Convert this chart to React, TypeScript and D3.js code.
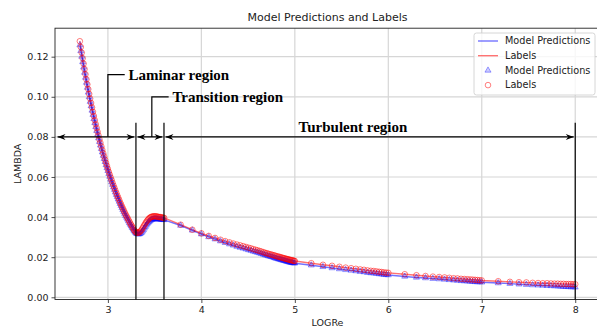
import React, { useEffect, useRef } from 'react';
import * as d3 from 'd3';

// LOGRe samples, by flow region
const laminarLogRe = [2.70, 2.71, 2.72, 2.73, 2.74, 2.75, 2.76, 2.77, 2.78, 2.79, 2.80, 2.81, 2.82, 2.83, 2.84,
  2.85, 2.86, 2.87, 2.88, 2.89, 2.90, 2.91, 2.92, 2.93, 2.94, 2.95, 2.96, 2.97, 2.98, 2.99, 3.00, 3.01, 3.02,
  3.03, 3.04, 3.05, 3.06, 3.07, 3.08, 3.09, 3.10, 3.11, 3.12, 3.13, 3.14, 3.15, 3.16, 3.17, 3.18, 3.19, 3.20,
  3.21, 3.22, 3.23, 3.24, 3.25, 3.26, 3.27, 3.28, 3.29, 3.30];
const laminarLabels = [0.1277, 0.1248, 0.1220, 0.1192, 0.1165, 0.1138, 0.1112, 0.1087, 0.1062, 0.1038, 0.1014,
  0.0991, 0.0969, 0.0947, 0.0925, 0.0904, 0.0883, 0.0863, 0.0844, 0.0825, 0.0806, 0.0787, 0.0770, 0.0752,
  0.0735, 0.0718, 0.0702, 0.0686, 0.0670, 0.0655, 0.0640, 0.0625, 0.0611, 0.0597, 0.0584, 0.0570, 0.0557,
  0.0545, 0.0532, 0.0520, 0.0508, 0.0497, 0.0486, 0.0474, 0.0464, 0.0453, 0.0443, 0.0433, 0.0423, 0.0413,
  0.0404, 0.0395, 0.0386, 0.0377, 0.0368, 0.0360, 0.0352, 0.0344, 0.0336, 0.0329, 0.0324];
const laminarPreds = [0.1258, 0.1229, 0.1201, 0.1174, 0.1147, 0.1121, 0.1096, 0.1071, 0.1046, 0.1022, 0.0999,
  0.0976, 0.0954, 0.0932, 0.0911, 0.0890, 0.0870, 0.0850, 0.0831, 0.0812, 0.0794, 0.0776, 0.0758, 0.0741,
  0.0724, 0.0707, 0.0691, 0.0676, 0.0660, 0.0645, 0.0631, 0.0616, 0.0602, 0.0588, 0.0575, 0.0562, 0.0549,
  0.0537, 0.0524, 0.0512, 0.0501, 0.0489, 0.0478, 0.0467, 0.0457, 0.0446, 0.0436, 0.0426, 0.0417, 0.0407,
  0.0398, 0.0389, 0.0380, 0.0371, 0.0363, 0.0355, 0.0347, 0.0339, 0.0332, 0.0325, 0.0320];

const transitionLogRe = [3.31, 3.32, 3.33, 3.34, 3.35, 3.36, 3.37, 3.38, 3.39, 3.40, 3.41, 3.42, 3.43, 3.44,
  3.45, 3.46, 3.47, 3.48, 3.49, 3.50, 3.51, 3.52, 3.53, 3.54, 3.55, 3.56, 3.57, 3.58, 3.59];
const transitionLabels = [0.0322, 0.0322, 0.0323, 0.0326, 0.0330, 0.0336, 0.0344, 0.0352, 0.0360, 0.0368,
  0.0375, 0.0382, 0.0388, 0.0393, 0.0397, 0.0400, 0.0402, 0.0403, 0.0404, 0.0404, 0.0404, 0.0403, 0.0402,
  0.0401, 0.0400, 0.0400, 0.0399, 0.0398, 0.0397];
const transitionPreds = [0.0317, 0.0315, 0.0315, 0.0316, 0.0319, 0.0323, 0.0329, 0.0336, 0.0344, 0.0352,
  0.0359, 0.0366, 0.0372, 0.0377, 0.0381, 0.0385, 0.0387, 0.0389, 0.0390, 0.0391, 0.0391, 0.0391, 0.0390,
  0.0390, 0.0389, 0.0389, 0.0388, 0.0388, 0.0387];

const turbulentLogRe = [3.602, 3.778, 3.903, 4.000, 4.079, 4.146, 4.204, 4.255, 4.301, 4.342, 4.380, 4.415,
  4.447, 4.477, 4.505, 4.531, 4.556, 4.580, 4.602, 4.623, 4.643, 4.663, 4.681, 4.699, 4.716, 4.732, 4.748,
  4.763, 4.778, 4.792, 4.806, 4.820, 4.833, 4.845, 4.857, 4.869, 4.881, 4.892, 4.903, 4.914, 4.924, 4.934,
  4.944, 4.954, 4.964, 4.973, 4.982, 4.991, 5.000,
  5.176, 5.301, 5.398, 5.477, 5.544, 5.602, 5.653, 5.699, 5.740, 5.778, 5.813, 5.845, 5.875, 5.903, 5.929,
  5.954, 5.978, 6.000,
  6.176, 6.301, 6.398, 6.477, 6.544, 6.602, 6.653, 6.699, 6.740, 6.778, 6.813, 6.845, 6.875, 6.903, 6.929,
  6.954, 6.978, 7.000,
  7.176, 7.301, 7.398, 7.477, 7.544, 7.602, 7.653, 7.699, 7.740, 7.778, 7.813, 7.845, 7.875, 7.903, 7.929,
  7.954, 7.978, 8.000];
const turbulentLabels = [0.0396, 0.0362, 0.0337, 0.0319, 0.0306, 0.0296, 0.0287, 0.0280, 0.0274, 0.0268,
  0.0263, 0.0259, 0.0255, 0.0251, 0.0247, 0.0244, 0.0240, 0.0237, 0.0234, 0.0231, 0.0228, 0.0225, 0.0222,
  0.0220, 0.0217, 0.0215, 0.0213, 0.0211, 0.0209, 0.0207, 0.0205, 0.0203, 0.0202, 0.0200, 0.0198, 0.0197,
  0.0195, 0.0194, 0.0192, 0.0191, 0.0190, 0.0188, 0.0187, 0.0186, 0.0185, 0.0184, 0.0183, 0.0182, 0.0181,
  0.0170, 0.0162, 0.0157, 0.0152, 0.0148, 0.0145, 0.0142, 0.0139, 0.0137, 0.0134, 0.0132, 0.0131, 0.0129,
  0.0127, 0.0126, 0.0124, 0.0123, 0.0122,
  0.0115, 0.0110, 0.0106, 0.0103, 0.0101, 0.0099, 0.0097, 0.0095, 0.0094, 0.0092, 0.0091, 0.0090, 0.0089,
  0.0088, 0.0087, 0.0086, 0.0085, 0.0084,
  0.0080, 0.0077, 0.0075, 0.0074, 0.0072, 0.0071, 0.0070, 0.0070, 0.0069, 0.0068, 0.0068, 0.0067, 0.0067,
  0.0066, 0.0066, 0.0066, 0.0065, 0.0065];
const turbulentPreds = [0.0386, 0.0358, 0.0334, 0.0315, 0.0301, 0.0290, 0.0280, 0.0272, 0.0265, 0.0259,
  0.0253, 0.0248, 0.0244, 0.0240, 0.0236, 0.0233, 0.0229, 0.0226, 0.0223, 0.0220, 0.0217, 0.0214, 0.0211,
  0.0209, 0.0206, 0.0204, 0.0202, 0.0200, 0.0197, 0.0195, 0.0193, 0.0191, 0.0190, 0.0188, 0.0186, 0.0185,
  0.0183, 0.0182, 0.0180, 0.0179, 0.0178, 0.0176, 0.0175, 0.0174, 0.0173, 0.0172, 0.0171, 0.0171, 0.0170,
  0.0160, 0.0152, 0.0146, 0.0141, 0.0137, 0.0134, 0.0131, 0.0128, 0.0126, 0.0123, 0.0121, 0.0120, 0.0118,
  0.0116, 0.0115, 0.0113, 0.0112, 0.0111,
  0.0104, 0.0099, 0.0096, 0.0093, 0.0091, 0.0089, 0.0087, 0.0085, 0.0084, 0.0082, 0.0081, 0.0080, 0.0079,
  0.0078, 0.0077, 0.0076, 0.0076, 0.0075,
  0.0071, 0.0068, 0.0065, 0.0063, 0.0061, 0.0060, 0.0059, 0.0058, 0.0057, 0.0056, 0.0055, 0.0054, 0.0053,
  0.0053, 0.0052, 0.0051, 0.0051, 0.0050];

const xTicks = [3, 4, 5, 6, 7, 8];
const yTicks = [0, 0.02, 0.04, 0.06, 0.08, 0.1, 0.12];

// region annotations (data coords)
const regionNames = ['Laminar region', 'Transition region', 'Turbulent region'];
const regionSpans = [[2.445, 3.3], [3.3, 3.6], [3.6, 8.0]];
const regionBounds = [3.3, 3.6, 8.0];
const textAnchors = [[3.22, 0.1084], [3.69, 0.0976], [5.04, 0.0826]];
const leaders = [[3.0, 0.111, 3.18], [3.47, 0.1, 3.65]];
const arrowLevel = 0.08;
const boundTop = 0.087;

const legendItems = ['Model Predictions', 'Labels', 'Model Predictions', 'Labels'];

const App = () => {
  const ref = useRef<SVGSVGElement>(null);

  useEffect(() => {
    const width = 597;
    const height = 329;
    const svg = d3.select(ref.current).attr('width', width).attr('height', height);
    svg.selectAll('*').remove();

    const x = d3.scaleLinear().domain([2.434, 8.265]).range([55, 600]);
    const y = d3.scaleLinear().domain([-0.0011, 0.1342]).range([299.5, 28.2]);
    const [x0, x1] = x.range();
    const [y0, y1] = y.range();

    const sans = 'DejaVu Sans, sans-serif';
    const serif = 'Liberation Serif, Times New Roman, serif';

    svg.append('rect').attr('width', width).attr('height', height).attr('fill', 'white');

    // grid
    svg.append('g').selectAll('line').data(xTicks).enter().append('line')
      .attr('x1', d => x(d)).attr('x2', d => x(d))
      .attr('y1', y1).attr('y2', y0)
      .attr('stroke', '#d6d6d6').attr('stroke-width', 1.2);
    svg.append('g').selectAll('line').data(yTicks).enter().append('line')
      .attr('x1', x0).attr('x2', x1)
      .attr('y1', d => y(d)).attr('y2', d => y(d))
      .attr('stroke', '#d6d6d6').attr('stroke-width', 1.2);

    // axes
    const xAxis = svg.append('g')
      .attr('transform', `translate(0,${y0})`)
      .call(d3.axisBottom(x).tickValues(xTicks).tickFormat(d3.format('d')).tickSize(3.5).tickPadding(3));
    const yAxis = svg.append('g')
      .attr('transform', `translate(${x0},0)`)
      .call(d3.axisLeft(y).tickValues(yTicks).tickFormat(d3.format('.2f')).tickSize(3.5).tickPadding(3));
    [xAxis, yAxis].forEach(g => {
      g.select('.domain').remove();
      g.selectAll('text').attr('font-family', sans).attr('font-size', 9.5).attr('fill', '#222');
      g.selectAll('line').attr('stroke', '#222').attr('stroke-width', 0.8);
    });

    const allLogRe = [...laminarLogRe, ...transitionLogRe, ...turbulentLogRe];
    const series = [
      { vals: [...laminarPreds, ...transitionPreds, ...turbulentPreds], color: 'blue' },
      { vals: [...laminarLabels, ...transitionLabels, ...turbulentLabels], color: 'red' },
    ];
    const pts = (vals: number[]) => allLogRe.map((v, i) => [v, vals[i]] as [number, number]);

    const line = d3.line<[number, number]>().x(d => x(d[0])).y(d => y(d[1]));
    series.forEach(s => {
      svg.append('path')
        .datum(pts(s.vals))
        .attr('d', line)
        .attr('fill', 'none')
        .attr('stroke', s.color)
        .attr('stroke-opacity', 0.55)
        .attr('stroke-width', 1.4);
    });

    // prediction markers (triangles)
    const tri = d3.symbol().type(d3.symbolTriangle).size(16);
    svg.append('g').selectAll('path')
      .data(pts(series[0].vals))
      .enter().append('path')
      .attr('d', tri)
      .attr('transform', d => `translate(${x(d[0])},${y(d[1])})`)
      .attr('fill', 'blue').attr('fill-opacity', 0.2)
      .attr('stroke', 'blue').attr('stroke-opacity', 0.45).attr('stroke-width', 0.8);

    // label markers (circles)
    svg.append('g').selectAll('circle')
      .data(pts(series[1].vals))
      .enter().append('circle')
      .attr('cx', d => x(d[0])).attr('cy', d => y(d[1])).attr('r', 2.8)
      .attr('fill', 'none')
      .attr('stroke', 'red').attr('stroke-opacity', 0.5).attr('stroke-width', 1);

    // spines
    svg.append('rect')
      .attr('x', x0).attr('y', y1).attr('width', x1 - x0).attr('height', y0 - y1)
      .attr('fill', 'none').attr('stroke', '#222').attr('stroke-width', 0.9);

    // region boundaries
    svg.append('g').selectAll('line').data(regionBounds).enter().append('line')
      .attr('x1', d => x(d)).attr('x2', d => x(d))
      .attr('y1', y(boundTop)).attr('y2', y0)
      .attr('stroke', 'black').attr('stroke-width', 1.2);

    // double arrows
    const head = (tx: number, ty: number, dir: number) =>
      `M${tx},${ty}L${tx - dir * 8},${ty - 3}L${tx - dir * 5.5},${ty}L${tx - dir * 8},${ty + 3}Z`;
    regionSpans.forEach(([a, b]) => {
      const ya = y(arrowLevel);
      const xa = x(a) + 1.5;
      const xb = x(b) - 1.5;
      svg.append('line').attr('x1', xa).attr('x2', xb).attr('y1', ya).attr('y2', ya)
        .attr('stroke', 'black').attr('stroke-width', 1.3);
      svg.append('path').attr('d', head(xa, ya, -1)).attr('fill', 'black');
      svg.append('path').attr('d', head(xb, ya, 1)).attr('fill', 'black');
    });

    // leader lines
    leaders.forEach(([lx, ly, ex]) => {
      svg.append('path')
        .attr('d', `M${x(lx)},${y(arrowLevel)}V${y(ly)}H${x(ex)}`)
        .attr('fill', 'none').attr('stroke', 'black').attr('stroke-width', 1.2);
    });

    // region texts
    regionNames.forEach((name, i) => {
      svg.append('text')
        .attr('x', x(textAnchors[i][0])).attr('y', y(textAnchors[i][1]))
        .attr('font-family', serif).attr('font-weight', 'bold').attr('font-size', 15)
        .attr('fill', 'black')
        .text(name);
    });

    // title & axis labels
    svg.append('text')
      .attr('x', (x0 + x1) / 2).attr('y', 21).attr('text-anchor', 'middle')
      .attr('font-family', sans).attr('font-size', 11).attr('fill', '#222')
      .text('Model Predictions and Labels');
    svg.append('text')
      .attr('x', (x0 + x1) / 2).attr('y', 326).attr('text-anchor', 'middle')
      .attr('font-family', sans).attr('font-size', 9.5).attr('fill', '#222')
      .text('LOGRe');
    svg.append('text')
      .attr('transform', `translate(21,${(y0 + y1) / 2}) rotate(-90)`)
      .attr('text-anchor', 'middle')
      .attr('font-family', sans).attr('font-size', 9.5).attr('fill', '#222')
      .text('LAMBDA');

    // legend
    const lg = svg.append('g').attr('transform', 'translate(474,33)');
    lg.append('rect').attr('width', 121).attr('height', 62).attr('rx', 2.5)
      .attr('fill', 'white').attr('fill-opacity', 0.8)
      .attr('stroke', '#cccccc').attr('stroke-width', 0.8);
    legendItems.forEach((name, i) => {
      const ry = 8 + i * 14.7;
      const color = i % 2 === 0 ? 'blue' : 'red';
      if (i < 2) {
        lg.append('line').attr('x1', 4).attr('x2', 24).attr('y1', ry).attr('y2', ry)
          .attr('stroke', color).attr('stroke-opacity', 0.55).attr('stroke-width', 1.4);
      } else if (i === 2) {
        lg.append('path').attr('d', tri).attr('transform', `translate(14,${ry})`)
          .attr('fill', 'blue').attr('fill-opacity', 0.2)
          .attr('stroke', 'blue').attr('stroke-opacity', 0.45).attr('stroke-width', 0.8);
      } else {
        lg.append('circle').attr('cx', 14).attr('cy', ry).attr('r', 2.8)
          .attr('fill', 'none').attr('stroke', 'red').attr('stroke-opacity', 0.5).attr('stroke-width', 1);
      }
      lg.append('text').attr('x', 31).attr('y', ry).attr('dy', '0.35em')
        .attr('font-family', sans).attr('font-size', 9.7).attr('fill', '#222')
        .text(name);
    });
  }, []);

  return <svg ref={ref} style={{ position: 'absolute', left: 0, top: 0 }} />;
};

export default App;
